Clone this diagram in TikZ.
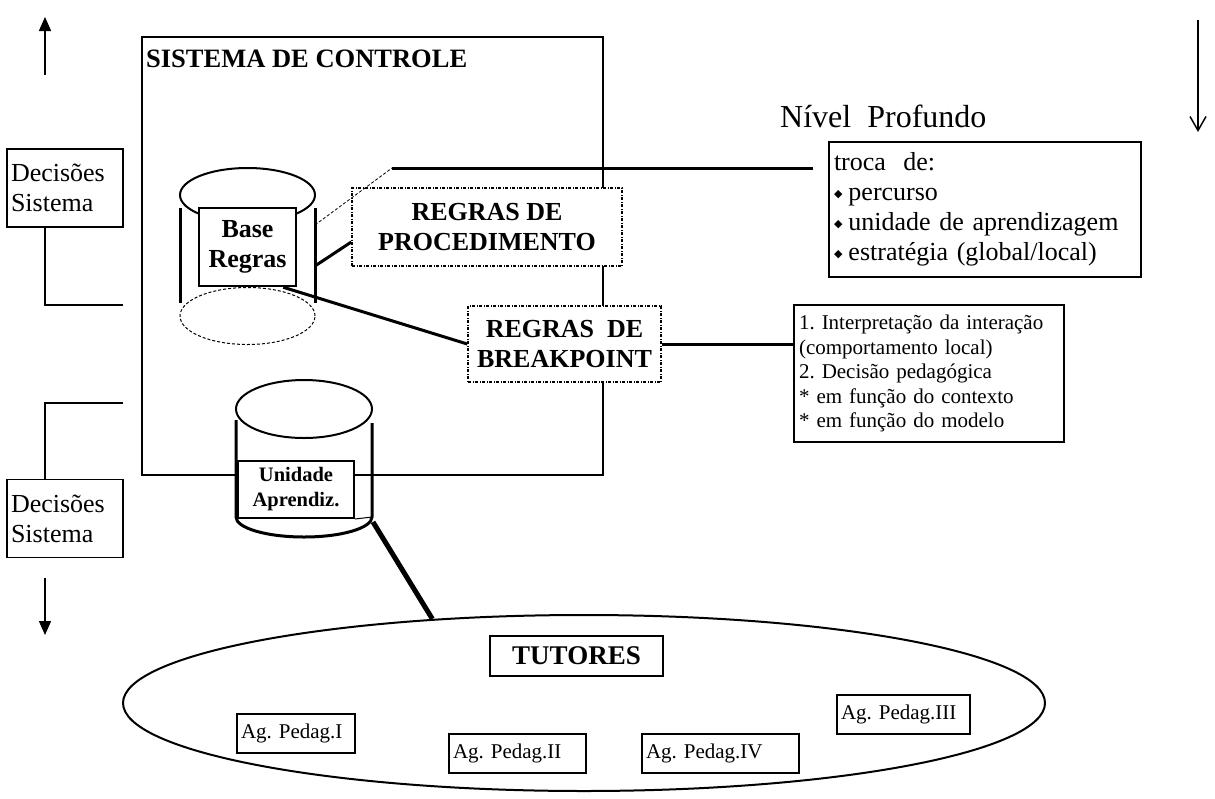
\documentclass[tikz,border=0pt]{standalone}
\usepackage{fontspec}
\setmainfont{Liberation Serif}
\newfontfamily\diafont{DejaVu Sans}
\usetikzlibrary{arrows.meta,positioning,shapes.geometric,calc}
\newcommand{\dmd}{\raisebox{3pt}{\diafont\fontsize{11}{11}\selectfont ◆}\hspace{6pt}}
\frenchspacing

\begin{document}
\begin{tikzpicture}[x=1pt, y=-1pt,
  font=\fontsize{26}{30}\selectfont,
  plain/.style={draw, line width=1.5pt, fill=white, align=left, inner sep=4pt},
  rulebox/.style={draw, line width=1.5pt, dash pattern=on 3pt off 1.5pt on 1pt off 1.5pt,
    fill=white, align=center, inner sep=0pt, font=\bfseries\fontsize{26}{30}\selectfont},
  store/.style={draw, line width=2.5pt, fill=white, align=center, inner sep=0pt,
    font=\bfseries\fontsize{26}{30}\selectfont},
  agent/.style={draw, line width=2pt, fill=white, align=left, inner sep=4pt,
    minimum height=39pt, font=\fontsize{21}{24}\selectfont},
  disk/.style={draw, ellipse, line width=2pt, inner sep=0pt},
  link/.style={line width=3pt},
  side/.style={line width=3pt}
]
\useasboundingbox (0,0) rectangle (1215,798);

\node[draw, line width=1.5pt, minimum width=461pt, minimum height=438pt, inner sep=0pt] (sys) at (372.5,256) {};
\node[anchor=base west, inner sep=0pt, font=\bfseries\fontsize{26.5}{30}\selectfont] (systitle) at (146,67) {SISTEMA DE CONTROLE};

\coordinate (upA) at (45,75); \coordinate (upB) at (45,17);
\coordinate (dnA) at (45,578); \coordinate (dnB) at (45,635);
\coordinate (rtA) at (1198,20); \coordinate (rtB) at (1198,132);
\draw[line width=1.5pt, -{Triangle[length=14pt, width=12pt]}] (upA) -- (upB);
\draw[line width=1.5pt, -{Triangle[length=14pt, width=12pt]}] (dnA) -- (dnB);
\draw[line width=1.5pt, -{Straight Barb[length=14pt, width=16pt]}] (rtA) -- (rtB);

\node[plain, text width=108pt, minimum height=78pt] (dec1) at (65,188) {Decisões\\Sistema};
\node[plain, text width=108pt, minimum height=78pt] (dec2) at (65,518.5) {Decisões\\Sistema};
\coordinate (k1) at (123,305); \coordinate (k2) at (123,403);
\draw[line width=2pt] (upA |- dec1.south) |- (k1);
\draw[line width=2pt] (upA |- dec2.north) |- (k2);

\node[disk, minimum width=135pt, minimum height=54pt] (brtop) at (247.5,195) {};
\node[disk, densely dashed, line width=1pt, minimum width=135pt, minimum height=57pt] (brbot) at (247.5,316) {};
\draw[side] (180,208) -- (180,303);
\draw[side] (315,208) -- (315,303);
\node[store, minimum width=97pt, minimum height=78pt] (br) at (247.5,247) {Base\\Regras};

\node[rulebox, minimum width=270pt, minimum height=78pt] (proc) at (487,227) {REGRAS DE\\PROCEDIMENTO};
\node[rulebox, minimum width=193pt, minimum height=76pt] (brk) at (564.5,344) {REGRAS\ \ DE\\BREAKPOINT};

\node[anchor=base west, inner sep=0pt, font=\fontsize{32}{36}\selectfont] (deep) at (780,127) {Nível\ \ Profundo};
\node[plain, line width=2.5pt, text width=302pt, minimum height=135pt, inner sep=5pt] (troca) at (985,209.5)
  {troca\ \ de:\\\dmd percurso\\\dmd unidade de aprendizagem\\\dmd estratégia (global/local)};
\node[plain, text width=260pt, minimum height=137pt, inner sep=5pt, font=\fontsize{21}{24.5}\selectfont] (interp) at (929,373.5)
  {1. Interpretação da interação\\(comportamento local)\\2. Decisão pedagógica\\{}* em função do contexto\\{}* em função do modelo};

\coordinate (brR1) at (315,225); \coordinate (brR2) at (315,266);
\coordinate (pk) at (392,168); \coordinate (pk2) at (813,168);
\draw[densely dashed, line width=0.8pt] (brR1) -- (pk);
\draw[link] (pk) -- (pk2);
\draw[link] (brR2) -- ([yshift=-15pt]proc.west);
\draw[link] ([xshift=-14pt]br.south east) -- (brk.west);
\draw[link] (brk.east) -- (brk.east -| interp.west);

\node[disk, minimum width=136pt, minimum height=58pt] (uatop) at (304,409) {};
\draw[side] (236,420) -- (236,517) arc[start angle=180, end angle=360, x radius=68pt, y radius=20pt] -- (372,423);
\coordinate (uaR) at (372,517);
\node[store, line width=2pt, minimum width=116pt, minimum height=57pt, font=\bfseries\fontsize{20.5}{25}\selectfont] (ua) at (296,489.5) {Unidade\\Aprendiz.};
\draw[line width=1pt] (ua.south east) -- (uaR);

\node[disk, minimum width=922pt, minimum height=176pt] (tut) at (584,703) {};
\node[store, minimum width=173pt, minimum height=40pt, font=\bfseries\fontsize{27}{30}\selectfont] (tutores) at (576.5,656) {TUTORES};
\node[agent, text width=110pt] (ag1) at (296,733.5) {Ag. Pedag.I};
\node[agent, text width=129pt] (ag2) at (517.5,753) {Ag. Pedag.II};
\node[agent, text width=149pt] (ag4) at (720.5,753) {Ag. Pedag.IV};
\node[agent, text width=125pt] (ag3) at (903.5,714.5) {Ag. Pedag.III};

\coordinate (uaS) at (373,522);
\draw[line width=5pt] (uaS) -- (tut.151);
\end{tikzpicture}
\end{document}
